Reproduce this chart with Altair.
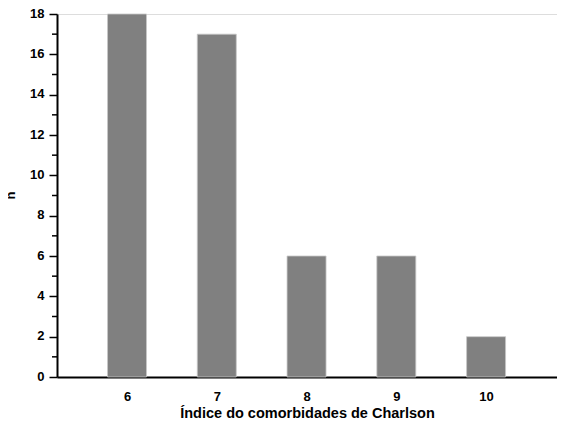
import altair as alt
import pandas as pd

categories = [6, 7, 8, 9, 10]
counts = [18, 17, 6, 6, 2]
major_ticks = [0, 2, 4, 6, 8, 10, 12, 14, 16, 18]
minor_ticks = [1, 3, 5, 7, 9, 11, 13, 15, 17]

df = pd.DataFrame({"indice": categories, "n": counts})
minor_df = pd.DataFrame({"v": minor_ticks})

FONT = "Liberation Sans"
FS = 13

xscale = alt.Scale(domain=[5.22, 10.79], nice=False, zero=False, padding=0)
yscale = alt.Scale(domain=[0, 18], nice=False)

bars = alt.Chart(df).mark_bar(size=39, color="#808080", stroke="#c8c8c8", strokeWidth=0.8).encode(
    x=alt.X("indice:Q", scale=xscale,
            axis=alt.Axis(values=categories, format="d", title="Índice do comorbidades de Charlson",
                          ticks=False, grid=False, labelPadding=13, titlePadding=3,
                          domainColor="black", domainWidth=2,
                          labelFont=FONT, labelFontSize=FS, labelFontWeight="bold", labelColor="black",
                          titleFont=FONT, titleFontSize=14.5, titleFontWeight="bold", titleColor="black")),
    y=alt.Y("n:Q", scale=yscale,
            axis=alt.Axis(values=major_ticks, title="n", grid=False, tickSize=8, tickWidth=1.5,
                          tickColor="black", domainColor="black", domainWidth=2, labelPadding=5,
                          labelOffset=-1,
                          labelFont=FONT, labelFontSize=FS, labelFontWeight="bold", labelColor="black",
                          titleFont=FONT, titleFontSize=FS, titleFontWeight="bold", titleColor="black",
                          titleX=-47, titleY=181, titleAngle=-90, titleAlign="center",
                          titleBaseline="middle")),
)

minor = alt.Chart(minor_df).mark_rule(color="black", strokeWidth=1.5, clip=False).encode(
    y=alt.Y("v:Q", scale=yscale),
    x=alt.value(-5),
    x2=alt.value(0),
)

chart = alt.layer(bars, minor).properties(
    width=500, height=363,
    autosize=alt.AutoSizeParams(type="none"),
    padding={"left": 49, "top": 6, "right": 0, "bottom": 43},
).configure_view(stroke=None).configure(background="white")

chart.save("out.html", embed_options={"renderer": "svg", "actions": False})
